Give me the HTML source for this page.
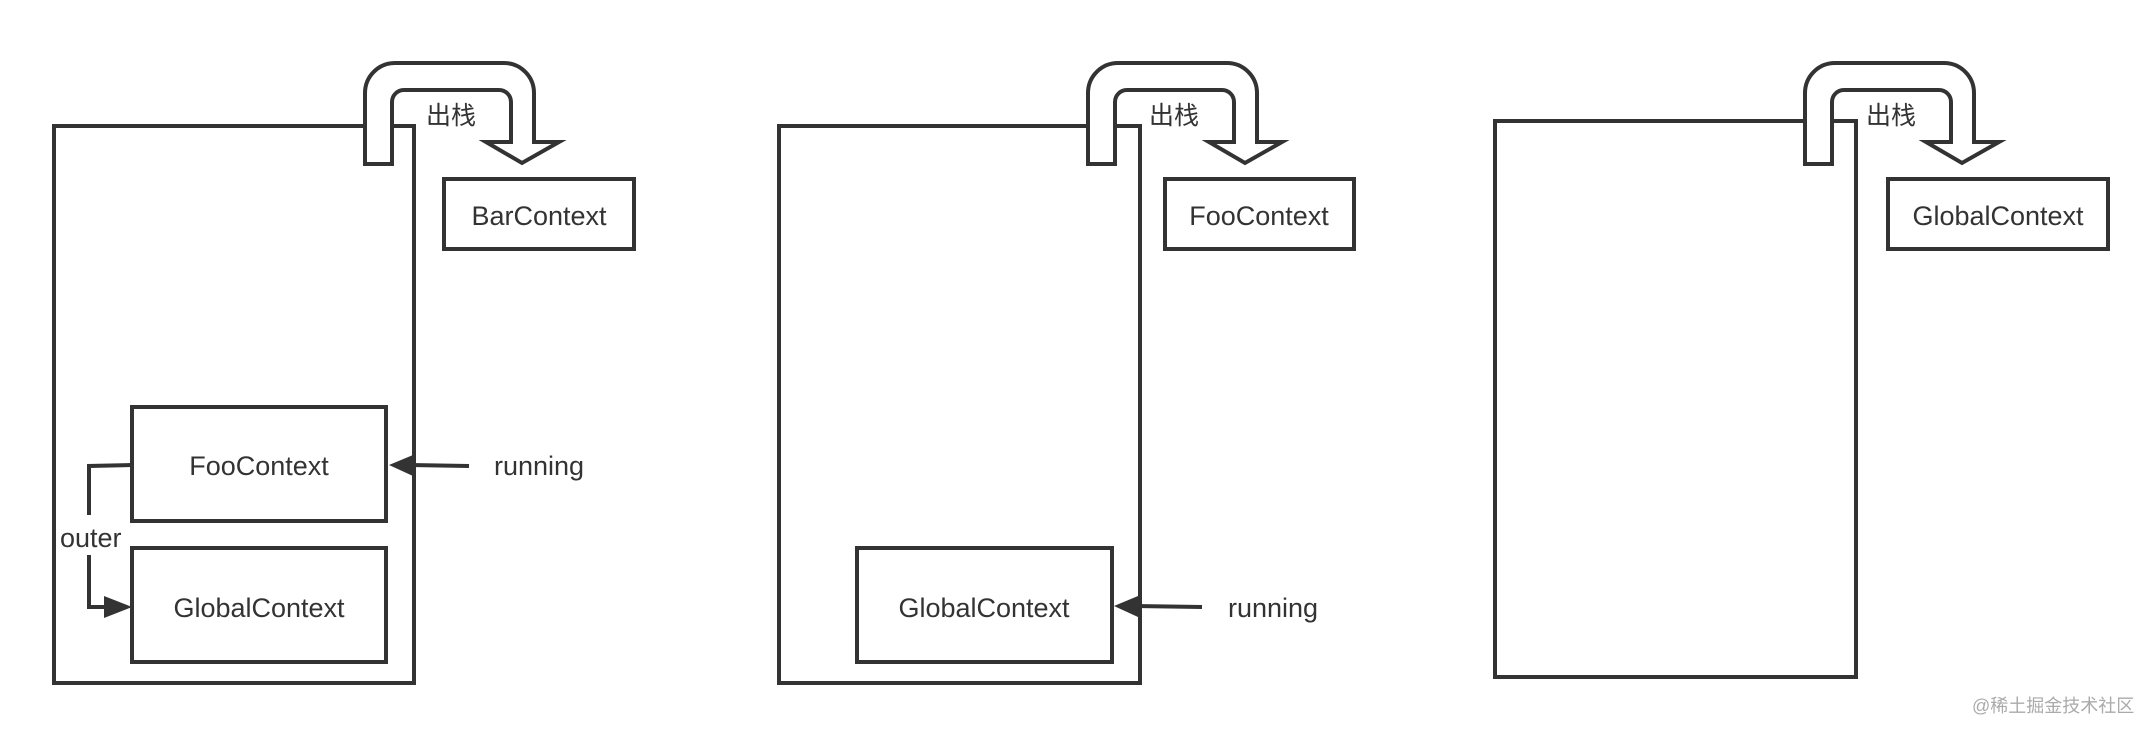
<!DOCTYPE html>
<html><head><meta charset="utf-8"><style>
html,body{margin:0;padding:0;background:#fff;}
svg{display:block;}
text{font-family:"Liberation Sans","Noto Sans CJK SC",sans-serif;fill:#333;}
</style></head><body>
<svg width="2154" height="738" viewBox="0 0 2154 738" xmlns="http://www.w3.org/2000/svg">
<defs>
<g id="bend">
<path d="M0,164 L0,93 A30,30 0 0 1 30,63 L139,63 A30,30 0 0 1 169,93 L169,142 L194,142 L157,163 L121,142 L146,142 L146,102 A12,12 0 0 0 134,90 L39,90 A12,12 0 0 0 27,102 L27,164 Z" fill="#fff" stroke="#333" stroke-width="4" stroke-linejoin="miter"/>
<text x="61" y="124" font-size="25">出栈</text>
</g>
</defs>
<g fill="none" stroke="#333" stroke-width="4">
<rect x="54" y="126" width="360" height="557"/>
<rect x="132" y="407" width="254" height="114"/>
<rect x="132" y="548" width="254" height="114"/>
<rect x="444" y="179" width="190" height="70"/>
<line x1="469" y1="466" x2="410" y2="465"/>
<polyline points="132,465 89,466 89,515"/>
<polyline points="89,555 89,607 108,607"/>
<rect x="779" y="126" width="361" height="557"/>
<rect x="857" y="548" width="255" height="114"/>
<rect x="1165" y="179" width="189" height="70"/>
<line x1="1202" y1="607" x2="1138" y2="606"/>
<rect x="1495" y="121" width="361" height="556"/>
<rect x="1888" y="179" width="220" height="70"/>
</g>
<g fill="#333">
<polygon points="389,465 413,455 413,476"/>
<polygon points="132,607 104,596 104,618"/>
<polygon points="1114,606 1138,596 1138,617"/>
</g>
<use href="#bend" x="365" y="0"/>
<use href="#bend" x="1088" y="0"/>
<use href="#bend" x="1805" y="0"/>
<g font-size="27" text-anchor="middle">
<text x="539" y="225">BarContext</text>
<text x="1259" y="225">FooContext</text>
<text x="1998" y="225">GlobalContext</text>
<text x="259" y="475">FooContext</text>
<text x="259" y="617">GlobalContext</text>
<text x="984" y="617">GlobalContext</text>
</g>
<g font-size="27">
<text x="494" y="475">running</text>
<text x="1228" y="617">running</text>
<text x="60" y="547">outer</text>
</g>
<text x="1972" y="712" font-size="18" style="fill:#aaa">@稀土掘金技术社区</text>
</svg>
</body></html>
